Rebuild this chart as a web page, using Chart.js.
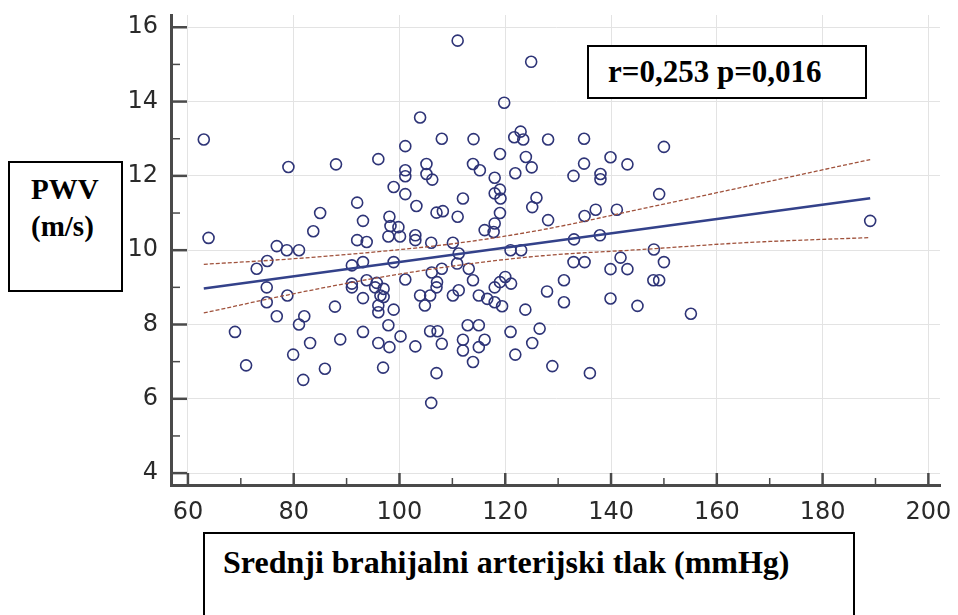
<!DOCTYPE html>
<html>
<head>
<meta charset="utf-8">
<script src="https://cdn.jsdelivr.net/npm/chart.js@4.4.0/dist/chart.umd.min.js"></script>
<style>
    html, body { margin: 0; padding: 0; background: #fff; }
    #wrap { position: relative; width: 958px; height: 615px; overflow: hidden; }
    .box {
        position: absolute;
        box-sizing: border-box;
        border: 2px solid #000;
        background: #fff;
        font-family: "Liberation Serif", "Times New Roman", serif;
        font-weight: bold;
        color: #000;
        white-space: nowrap;
    }
    #statBox { left: 587px; top: 45px; width: 280px; height: 54px; font-size: 31px; line-height: 40px; padding: 5px 0 0 19px; }
    #yBox { left: 8px; top: 161px; width: 115px; height: 131px; font-size: 29px; line-height: 37px; padding: 8px 0 0 21px; }
    #xBox { left: 203px; top: 532px; width: 652px; height: 95px; font-size: 32px; line-height: 40px; padding: 8px 0 0 18px; }
</style>
</head>
<body>
<div id="wrap">
    <canvas id="pwvChart" width="958" height="615"></canvas>
    <div class="box" id="statBox">r=0,253 p=0,016</div>
    <div class="box" id="yBox">PWV<br>(m/s)</div>
    <div class="box" id="xBox">Srednji brahijalni arterijski tlak (mmHg)</div>
</div>
<script>
// tick labels
const xTicks = [60, 80, 100, 120, 140, 160, 180, 200];
const xMinor = [70, 90, 110, 130, 150, 170, 190];
const yTicks = [4, 6, 8, 10, 12, 14, 16];
const yMinor = [5, 7, 9, 11, 13, 15];

const pressure = [
    63.0, 79.0, 88.0, 85.0, 83.7, 63.9, 76.8, 78.7, 81.0, 75.0, 73.0, 74.9, 78.8, 74.9, 76.8, 81.0, 82.0, 87.8, 68.9, 88.8,
    83.1, 79.9, 71.0, 85.9, 81.8,
    111.0, 124.9, 119.8, 103.9, 108.0, 114.0, 101.1, 96.0, 105.1, 113.9, 119.0, 122.9, 121.7, 123.4, 123.9, 125.0, 121.9, 101.1, 101.1, 105.1,
    106.2, 115.2, 118.0, 119.0, 118.0, 119.1, 98.9, 101.1, 103.2, 112.0, 92.0, 107.0, 108.2, 111.0, 119.0, 125.9, 125.1, 93.1, 98.1, 98.3,
    99.8, 97.9, 100.1, 103.0, 103.0, 92.0, 93.8, 106.0, 110.1, 116.1, 117.8, 118.0,
    91.0, 93.1, 98.9, 111.2, 110.9, 113.1, 106.1, 108.0, 121.0, 123.0, 101.1, 107.1, 107.0, 91.0, 91.0, 93.8, 95.7, 95.4, 97.0, 96.4,
    97.0, 93.1, 96.0, 96.0, 98.9, 103.9, 105.8, 104.8, 110.1, 111.2, 113.9, 115.0, 116.6, 118.0, 119.0, 120.0, 121.1, 118.0, 119.4, 123.8,
    93.1, 97.9, 100.2, 96.0, 98.1, 103.0, 105.8, 107.2, 108.0, 112.9, 115.0, 112.0, 116.1, 112.0, 115.0, 113.9, 121.0, 121.9, 125.1, 126.5,
    96.9, 107.0, 106.0,
    128.1, 134.9, 150.0, 139.9, 143.1, 134.9, 138.0, 138.0, 132.9, 149.1, 137.1, 135.0, 141.1, 128.1, 133.0, 137.9, 148.1, 141.8, 132.9, 135.0,
    139.9, 143.1, 150.0, 148.0, 149.1, 131.1, 127.9, 131.1, 139.9, 145.0, 155.1, 128.9, 136.0, 189.0
];
const pwv = [
    12.98, 12.24, 12.31, 11.00, 10.51, 10.33, 10.11, 10.00, 10.00, 9.71, 9.50, 9.00, 8.78, 8.60, 8.22, 8.00, 8.22, 8.48, 7.80, 7.60,
    7.50, 7.19, 6.90, 6.81, 6.51,
    15.64, 15.07, 13.97, 13.57, 13.00, 12.99, 12.80, 12.45, 12.32, 12.32, 12.59, 13.19, 13.04, 12.98, 12.51, 12.23, 12.07, 12.15, 11.99, 12.05,
    11.90, 12.15, 11.95, 11.63, 11.53, 11.39, 11.70, 11.51, 11.19, 11.39, 11.28, 11.01, 11.05, 10.90, 11.00, 11.41, 11.16, 10.79, 10.90, 10.65,
    10.62, 10.37, 10.37, 10.40, 10.27, 10.27, 10.22, 10.20, 10.20, 10.54, 10.49, 10.72,
    9.59, 9.68, 9.68, 9.91, 9.64, 9.50, 9.40, 9.50, 10.00, 10.00, 9.21, 9.14, 9.00, 9.10, 9.00, 9.19, 9.12, 9.00, 8.96, 8.78,
    8.74, 8.71, 8.51, 8.33, 8.40, 8.78, 8.78, 8.51, 8.78, 8.92, 9.19, 8.78, 8.69, 9.00, 9.14, 9.28, 9.10, 8.60, 8.49, 8.40,
    7.80, 7.98, 7.68, 7.50, 7.39, 7.41, 7.82, 7.82, 7.48, 7.98, 7.98, 7.59, 7.59, 7.30, 7.39, 6.99, 7.80, 7.19, 7.50, 7.89,
    6.84, 6.69, 5.89,
    12.98, 13.00, 12.78, 12.50, 12.31, 12.33, 12.05, 11.91, 12.00, 11.51, 11.09, 10.92, 11.09, 10.81, 10.29, 10.40, 10.02, 9.80, 9.68, 9.68,
    9.49, 9.49, 9.68, 9.19, 9.19, 9.19, 8.89, 8.60, 8.70, 8.50, 8.29, 6.88, 6.69, 10.79
];

// regression line and its 95% confidence band
const fitX = [63, 189];
const fitY = [8.97, 11.40];
const bandX = [63, 79, 96, 111, 127, 146, 165, 189];
const bandUpper = [9.62, 9.76, 9.96, 10.19, 10.55, 11.12, 11.70, 12.44];
const bandLower = [8.31, 8.80, 9.26, 9.59, 9.85, 10.02, 10.20, 10.34];

const toPoints = (xs, ys) => xs.map((x, i) => ({ x: x, y: ys[i] }));

// small inward tick marks on both axes (major longer than minor)
const tickMarks = {
    id: 'tickMarks',
    afterDatasetsDraw(chart) {
        const { ctx, chartArea, scales } = chart;
        ctx.save();
        ctx.strokeStyle = '#4a4a4a';
        const mark = (x1, y1, x2, y2, w) => {
            ctx.lineWidth = w;
            ctx.beginPath();
            ctx.moveTo(x1, y1);
            ctx.lineTo(x2, y2);
            ctx.stroke();
        };
        yTicks.forEach(v => { const y = scales.y.getPixelForValue(v); mark(chartArea.left, y, chartArea.left + 16, y, 2.5); });
        yMinor.forEach(v => { const y = scales.y.getPixelForValue(v); mark(chartArea.left, y, chartArea.left + 9, y, 1.5); });
        xTicks.forEach(v => { const x = scales.x.getPixelForValue(v); mark(x, chartArea.bottom, x, chartArea.bottom - 12, 2.5); });
        xMinor.forEach(v => { const x = scales.x.getPixelForValue(v); mark(x, chartArea.bottom, x, chartArea.bottom - 7, 1.5); });
        ctx.restore();
    }
};

const tickFont = { family: '"DejaVu Sans", sans-serif', size: 24 };

new Chart('pwvChart', {
    type: 'scatter',
    data: {
        datasets: [
            {
                label: 'Ispitanici',
                data: toPoints(pressure, pwv),
                pointStyle: 'circle',
                pointRadius: 5.5,
                pointBorderWidth: 1.6,
                pointBorderColor: '#2e3477',
                pointBackgroundColor: 'rgba(0,0,0,0)',
                order: 1
            },
            {
                label: 'Regresija',
                type: 'line',
                data: toPoints(fitX, fitY),
                borderColor: '#33418a',
                borderWidth: 2.6,
                pointRadius: 0,
                order: 0
            },
            {
                label: 'Gornja granica',
                type: 'line',
                data: toPoints(bandX, bandUpper),
                borderColor: '#a0523c',
                borderWidth: 1.3,
                borderDash: [4, 2],
                cubicInterpolationMode: 'monotone',
                pointRadius: 0,
                order: 0
            },
            {
                label: 'Donja granica',
                type: 'line',
                data: toPoints(bandX, bandLower),
                borderColor: '#a0523c',
                borderWidth: 1.3,
                borderDash: [4, 2],
                cubicInterpolationMode: 'monotone',
                pointRadius: 0,
                order: 0
            }
        ]
    },
    options: {
        responsive: false,
        animation: false,
        layout: { padding: { top: 15, right: 18, left: 0, bottom: 0 } },
        plugins: {
            legend: { display: false },
            tooltip: { enabled: false }
        },
        scales: {
            x: {
                type: 'linear',
                min: 56.8,
                max: 202.2,
                afterBuildTicks: scale => { scale.ticks = xTicks.map(v => ({ value: v })); },
                afterFit: scale => { scale.height = 130; scale.paddingLeft = 0; scale.paddingRight = 0; },
                grid: { color: '#e3e3e3', lineWidth: 1, drawTicks: false },
                border: { color: '#4a4a4a', width: 3 },
                ticks: { autoSkip: false, maxRotation: 0, padding: 13, color: '#2a2a2a', font: tickFont }
            },
            y: {
                type: 'linear',
                min: 3.68,
                max: 16.33,
                afterBuildTicks: scale => { scale.ticks = yTicks.map(v => ({ value: v })); },
                afterFit: scale => { scale.width = 171; scale.paddingTop = 0; scale.paddingBottom = 0; },
                grid: { color: '#e3e3e3', lineWidth: 1, drawTicks: false },
                border: { color: '#4a4a4a', width: 3 },
                ticks: { autoSkip: false, padding: 13, color: '#2a2a2a', font: tickFont }
            }
        }
    },
    plugins: [tickMarks]
});
</script>
</body>
</html>
